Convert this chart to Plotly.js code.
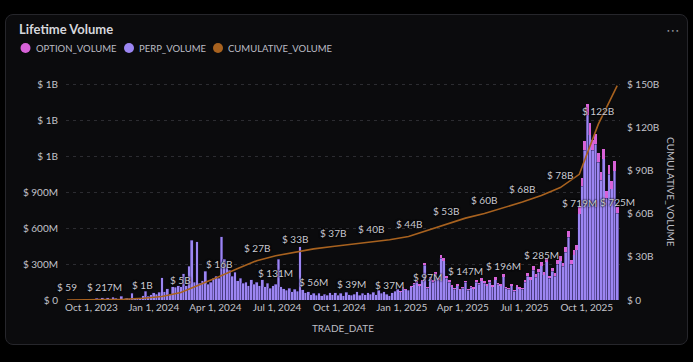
<!DOCTYPE html>
<html><head><meta charset="utf-8">
<script src="https://cdn.plot.ly/plotly-3.0.1.min.js"></script>
<style>
html,body{margin:0;padding:0;background:#000;width:693px;height:362px;overflow:hidden}
#card{position:absolute;left:5px;top:14px;width:683px;height:331px;border:1px solid #26262b;border-radius:8px;background:#0b0b0d;box-sizing:border-box}
#chart{position:absolute;left:0;top:0;width:693px;height:362px}
</style></head><body>
<div id="card"></div><div id="chart"></div>
<script>
// ---- data ----
const START_DATE = '2023-08-26';
const BAR_STEP_DAYS = 4;     // one bar every 4 days
const CUM_STEP_DAYS = 28;    // cumulative reading every 28 days

// daily volume (millions USD), sampled every 4 days
const PERP_VOLUME_M = [
  0.000059, 0.5, 1, 0.8, 2, 1.5, 2, 3, 2.5, 4, 8, 15, 11, 20,
  12, 18, 10, 25, 14, 8, 30, 12, 15, 10, 55, 9, 16, 20,
  35, 75, 30, 45, 60, 50, 65, 186, 70, 95, 50, 110, 105, 120,
  110, 220, 120, 280, 500, 150, 488, 140, 160, 240, 130, 150, 180, 200,
  180, 527, 340, 300, 250, 200, 230, 160, 180, 140, 150, 120, 170, 130,
  150, 120, 170, 110, 140, 100, 120, 131, 340, 110, 95, 80, 100, 70,
  90, 75, 445, 85, 60, 70, 45, 56, 40, 55, 35, 50, 40, 60,
  45, 60, 40, 55, 35, 65, 45, 39, 50, 70, 40, 55, 45, 60,
  50, 65, 45, 80, 55, 70, 50, 37, 60, 75, 90, 70, 100, 85,
  80, 110, 130, 150, 120, 160, 290, 97, 180, 150, 220, 170, 350, 330,
  180, 150, 110, 90, 120, 85, 100, 147, 80, 105, 95, 150, 130, 160,
  140, 120, 150, 110, 170, 130, 120, 196, 100, 90, 120, 75, 110, 95,
  90, 150, 200, 170, 250, 190, 230, 285, 210, 320, 180, 240, 200, 300,
  330, 280, 400, 525, 300, 380, 418, 719, 950, 1250, 1550, 1380, 1250, 1300,
  1150, 1000, 1180, 850, 1050, 930, 1080, 725
];
const OPTION_VOLUME_M = [
  0, 0, 0, 0, 0, 0, 0, 0, 0, 0, 0, 0, 0, 0,
  0, 0, 0, 0, 0, 0, 0, 0, 0, 0, 0, 0, 0, 0,
  0, 0, 0, 0, 0, 0, 0, 0, 0, 0, 0, 0, 0, 0,
  0, 0, 0, 0, 0, 0, 0, 0, 0, 0, 0, 0, 0, 0,
  0, 0, 0, 0, 0, 0, 0, 0, 0, 0, 0, 0, 0, 0,
  0, 0, 0, 0, 0, 0, 0, 0, 0, 0, 0, 0, 0, 0,
  0, 0, 0, 0, 0, 0, 0, 0, 0, 0, 0, 0, 0, 0,
  0, 0, 0, 0, 0, 0, 0, 0, 0, 0, 0, 0, 0, 0,
  0, 0, 0, 0, 0, 0, 0, 0, 0, 2, 4, 5, 6, 5,
  6, 8, 10, 9, 12, 10, 18, 12, 15, 14, 18, 15, 22, 20,
  18, 15, 12, 10, 14, 10, 12, 15, 10, 14, 12, 18, 15, 20,
  18, 15, 20, 14, 22, 16, 15, 24, 12, 12, 15, 10, 14, 12,
  12, 20, 25, 22, 30, 25, 28, 30, 26, 35, 22, 30, 25, 35,
  35, 30, 40, 50, 35, 40, 45, 60, 70, 80, 90, 95, 85, 90,
  80, 70, 85, 60, 75, 65, 80, 55
];
// cumulative volume (billions USD), every 28 days
const CUMULATIVE_VOLUME_B = [
  0.000000059, 0.05, 0.217, 0.55, 1.2, 2.4, 5.2, 10.5, 16.2, 22,
  27.4, 30.8, 33.4, 35.6, 37.3, 38.8, 40.3, 42.0, 44.2, 48.5,
  53.2, 57.0, 60.3, 64.2, 68.2, 72.8, 78.3, 87.5, 122.3, 149.3
];
const CUM_LABEL_IDX = [0, 2, 4, 6, 8, 10, 12, 14, 16, 18, 20, 22, 24, 26, 28];
const BAR_LABEL_IDX = [77, 91, 105, 119, 133, 147, 161, 175, 189, 203];
const Y1_TICKS_M = [0, 300, 600, 900, 1200, 1500, 1800];
const Y2_TICKS_B = [0, 30, 60, 90, 120, 150];

// ---- helpers ----
const DAY = 86400000;
const t0 = Date.parse(START_DATE + 'T00:00:00Z');
const dateAt = d => new Date(t0 + d * DAY).toISOString().slice(0, 19).replace('T', ' ');
function fmt(dollars) {
  if (dollars >= 1e9) return '$ ' + Math.floor(dollars / 1e9) + 'B';
  if (dollars >= 1e6) return '$ ' + Math.floor(dollars / 1e6) + 'M';
  if (dollars >= 1e3) return '$ ' + Math.floor(dollars / 1e3) + 'K';
  return '$ ' + Math.round(dollars);
}
const barX = PERP_VOLUME_M.map((_, i) => dateAt(i * BAR_STEP_DAYS));
const cumX = CUMULATIVE_VOLUME_B.map((_, i) => dateAt(i * CUM_STEP_DAYS));

const C_OPT = '#d862d8', C_PERP = '#9c86f2', C_CUM = '#a8621f';
const FONT = 'Lato, "Open Sans", sans-serif';
const TXT = '#c3c3cb';

// pixel -> paper helpers
const L = 66, R = 620, T = 81, B = 300;
const px = x => (x - L) / (R - L);
const py = y => (B - y) / (B - T);

const barWidth = BAR_STEP_DAYS * DAY;
const barLine = {width: 0.6, color: 'rgba(30,22,70,0.7)'};
const labelFont = {family: FONT, size: 10, color: '#cacad2', shadow: '0px 0px 2px #000, 0px 0px 2px #000'};

const traces = [
  {type: 'bar', name: 'PERP_VOLUME', x: barX, y: PERP_VOLUME_M, width: barWidth,
   marker: {color: C_PERP, line: barLine}, showlegend: false, hoverinfo: 'skip'},
  {type: 'bar', name: 'OPTION_VOLUME', x: barX, y: OPTION_VOLUME_M, width: barWidth,
   marker: {color: C_OPT, line: {width: 0}}, showlegend: false, hoverinfo: 'skip'},
  {type: 'scatter', mode: 'lines', name: 'CUMULATIVE_VOLUME', x: cumX, y: CUMULATIVE_VOLUME_B,
   yaxis: 'y2', line: {color: C_CUM, width: 1.6}, showlegend: false, hoverinfo: 'skip'}
];

// data labels as annotations anchored to data coordinates
const annotations = [];
BAR_LABEL_IDX.forEach(i => annotations.push({
  xref: 'x', yref: 'y', x: barX[i], y: PERP_VOLUME_M[i], xanchor: 'center', yanchor: 'bottom',
  yshift: 3, text: fmt(PERP_VOLUME_M[i] * 1e6), showarrow: false, font: labelFont
}));
CUM_LABEL_IDX.forEach(i => annotations.push({
  xref: 'x', yref: 'y2', x: cumX[i], y: CUMULATIVE_VOLUME_B[i], xanchor: 'center', yanchor: 'bottom',
  yshift: 5, text: fmt(CUMULATIVE_VOLUME_B[i] * 1e9), showarrow: false, font: labelFont
}));

const legendItems = [
  {name: 'OPTION_VOLUME', color: C_OPT, cx: 25.5},
  {name: 'PERP_VOLUME', color: C_PERP, cx: 129},
  {name: 'CUMULATIVE_VOLUME', color: C_CUM, cx: 218}
];
const LEG_Y = 48;
const shapes = legendItems.map(it => ({
  type: 'circle', xref: 'paper', yref: 'paper',
  x0: px(it.cx - 5), x1: px(it.cx + 5), y0: py(LEG_Y + 5), y1: py(LEG_Y - 5),
  fillcolor: it.color, line: {width: 0}
}));
legendItems.forEach(it => annotations.push({
  xref: 'paper', yref: 'paper', x: px(it.cx + 8), y: py(LEG_Y), xanchor: 'left', yanchor: 'middle',
  text: it.name, showarrow: false, font: {family: FONT, size: 9.5, color: '#bdbdc5'}
}));
annotations.push({
  xref: 'paper', yref: 'paper', x: px(671), y: py(192), xanchor: 'center', yanchor: 'middle', textangle: 90,
  text: 'CUMULATIVE_VOLUME', showarrow: false, font: {family: FONT, size: 10, color: '#bdbdc5'}
});
annotations.push({
  xref: 'paper', yref: 'paper', x: px(673), y: py(30), xanchor: 'center', yanchor: 'middle',
  text: '⋯', showarrow: false, font: {family: '"DejaVu Sans", sans-serif', size: 14, color: '#8d8d95'}
});

const layout = {
  width: 693, height: 362,
  margin: {l: L, r: 693 - R, t: T, b: 362 - B, pad: 0},
  paper_bgcolor: 'rgba(0,0,0,0)', plot_bgcolor: 'rgba(0,0,0,0)',
  barmode: 'stack', bargap: 0,
  showlegend: false,
  title: {text: 'Lifetime Volume', x: 19 / 693, xref: 'container', xanchor: 'left',
          y: 1 - 29 / 362, yref: 'container', yanchor: 'middle',
          font: {family: FONT, size: 13, color: '#d6d6dc', weight: 700}},
  xaxis: {type: 'date', range: [dateAt(-1.5), dateAt(816.1)],
          tick0: '2023-10-01', dtick: 'M3', tickformat: '%b %-d, %Y',
          showgrid: false, zeroline: false, showline: false, ticks: '',
          tickfont: {family: FONT, size: 10, color: TXT},
          title: {text: 'TRADE_DATE', font: {family: FONT, size: 10, color: '#bdbdc5'}, standoff: 12}},
  yaxis: {range: [0, 1830], tickvals: Y1_TICKS_M, ticktext: Y1_TICKS_M.map(v => fmt(v * 1e6)),
          showgrid: true, gridcolor: '#2c2c31', griddash: '3px,4px', gridwidth: 1,
          zeroline: false, showline: false, ticks: '', ticklabelstandoff: 7,
          tickfont: {family: FONT, size: 10, color: TXT}},
  yaxis2: {overlaying: 'y', side: 'right', range: [0, 152.5], tickvals: Y2_TICKS_B,
           ticktext: Y2_TICKS_B.map(v => fmt(v * 1e9)), showgrid: false, zeroline: false,
           showline: false, ticks: '', ticklabelstandoff: 6,
           tickfont: {family: FONT, size: 10, color: TXT}},
  shapes: shapes,
  annotations: annotations
};

Plotly.newPlot('chart', traces, layout, {displayModeBar: false, staticPlot: true});
</script>
</body></html>
